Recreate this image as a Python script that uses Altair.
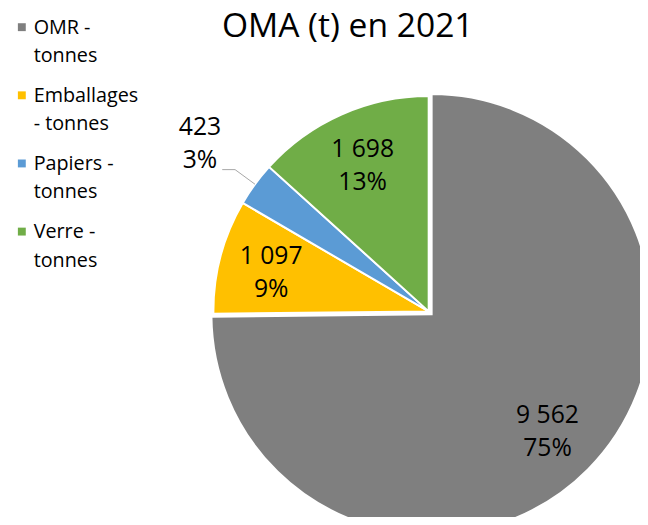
import json
import altair as alt
import pandas as pd

# ---- data ----
categories = ["OMR - tonnes", "Emballages - tonnes", "Papiers - tonnes", "Verre - tonnes"]
values = [9562, 1097, 423, 1698]
legend_lines = [["OMR -", "tonnes"], ["Emballages", "- tonnes"], ["Papiers -", "tonnes"], ["Verre -", "tonnes"]]
colors = ["#7F7F7F", "#FFC000", "#5B9BD5", "#70AD47"]
title_text = ["OMA (t) en 2021"]

df = pd.DataFrame({"cat": categories, "value": values})
df_title = pd.DataFrame({"title": title_text})

# ---- geometry / style ----
CX, CY, R = 426, 304, 218              # pie centre (view coords) and radius
OMR_CX, OMR_CY, OMR_R = 429, 307, 223  # exploded OMR slice
FONT = "Open Sans"
LH = 33.5

label_expr = ""
for c, lines in zip(categories, legend_lines):
    label_expr += f"datum.label == {json.dumps(c)} ? {json.dumps(lines)} : "
label_expr += "datum.label"

base = alt.Chart(df).transform_window(
    ord="row_number()"
).transform_joinaggregate(
    total="sum(value)"
).transform_calculate(
    num="replace(format(datum.value, ','), ',', ' ')",
    pct="format(datum.value / datum.total, '.0%')",
).transform_calculate(
    lbl="[datum.num, datum.pct]"
)

theta = alt.Theta("value:Q", stack=True)
order = alt.Order("ord:Q", sort="ascending")
color = alt.Color(
    "cat:N",
    sort=categories,
    scale=alt.Scale(domain=categories, range=colors),
    legend=alt.Legend(
        orient="none", legendX=4, legendY=12.7, title=None, padding=0,
        labelFont=FONT, labelFontSize=20, labelColor="black",
        labelBaseline="alphabetic", labelOffset=2, labelLimit=300,
        symbolType="M-1,-2.625H1V-0.625H-1Z", symbolSize=64, symbolStrokeWidth=0,
        rowPadding=20, labelExpr=label_expr,
    ),
)
is_omr = alt.datum.cat == categories[0]
is_pap = alt.datum.cat == categories[2]

arcs_omr = base.mark_arc(stroke="white", strokeWidth=2, radius=OMR_R).encode(
    theta=theta, order=order, color=color,
    x=alt.value(OMR_CX), y=alt.value(OMR_CY),
    opacity=alt.condition(is_omr, alt.value(1), alt.value(0)),
)
arcs_rest = base.mark_arc(stroke="white", strokeWidth=2, radius=R).encode(
    theta=theta, order=order, color=color,
    x=alt.value(CX), y=alt.value(CY),
    opacity=alt.condition(is_omr, alt.value(0), alt.value(1)),
)

text_style = dict(font=FONT, fontSize=25, lineHeight=LH, align="center",
                  baseline="middle", color="black", dy=-LH / 2 + 3)
text_omr = base.mark_text(radius=165, **text_style).encode(
    theta=theta, order=order, x=alt.value(OMR_CX), y=alt.value(OMR_CY),
    text=alt.condition(is_omr, "lbl:N", alt.value("")),
)
text_in = base.mark_text(radius=165, **text_style).encode(
    theta=theta, order=order, x=alt.value(CX), y=alt.value(CY),
    text=alt.condition(is_pap | is_omr, alt.value(""), "lbl:N"),
)
text_out = base.mark_text(radius=287, **{**text_style, "dy": -LH / 2}).encode(
    theta=theta, order=order, x=alt.value(CX), y=alt.value(CY),
    text=alt.condition(is_pap, "lbl:N", alt.value("")),
)

leader = alt.Chart(df).transform_window(
    cum="sum(value)"
).transform_joinaggregate(
    total="sum(value)"
).transform_filter(is_pap).transform_calculate(
    a="2 * PI * (datum.cum - datum.value / 2) / datum.total",
    pts="[0, 1, 2]",
).transform_flatten(["pts"]).transform_calculate(
    lx=f"{CX} + (datum.pts == 0 ? {R} : 243) * sin(datum.a) - (datum.pts == 2 ? 13 : 0)",
    ly=f"{CY} - (datum.pts == 0 ? {R} : 243) * cos(datum.a)",
).mark_line(color="#A6A6A6", strokeWidth=1).encode(
    x=alt.X("lx:Q", scale=None), y=alt.Y("ly:Q", scale=None), order="pts:Q"
)

title = alt.Chart(df_title).mark_text(
    font=FONT, fontSize=34, color="black", align="center", baseline="alphabetic"
).encode(text="title:N", x=alt.value(344), y=alt.value(26))

chart = alt.layer(arcs_omr, arcs_rest, leader, text_omr, text_in, text_out, title).properties(
    width=640, height=509, padding=0,
    autosize=alt.AutoSizeParams(type="none"),
).configure(
    style={"guide-label": {"lineHeight": 29}},
    view=alt.ViewConfig(stroke=None),
)

chart.save("out.html", embed_options={"renderer": "svg", "actions": False})
